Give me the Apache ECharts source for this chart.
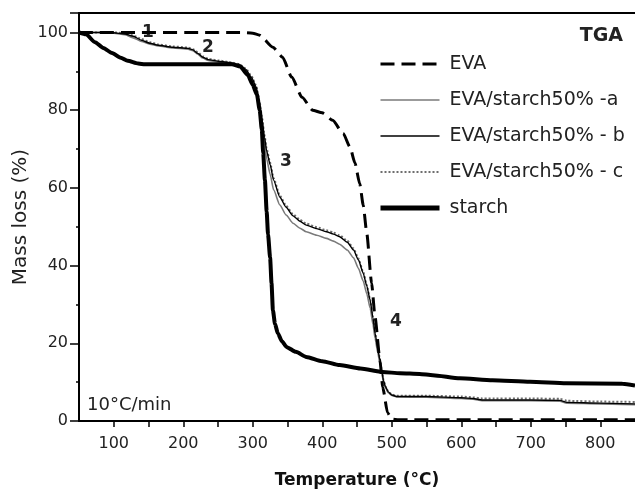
<!DOCTYPE html>
<html>
<head>
<meta charset="utf-8">
<script src="https://cdn.jsdelivr.net/npm/echarts@6.0.0/dist/echarts.min.js"></script>
<style>
  html, body { margin: 0; padding: 0; background: #fff; }
  #echart { width: 635px; height: 489px; }
</style>
</head>
<body>
<div id="echart"></div>
<script>
// TGA curves, [temperature °C, mass %]
var evaData = [
  [50, 100], [282, 100], [300, 99.8], [310, 99.3], [329, 96.2], [343, 93.6], [356, 88.5],
  [371, 83.3], [386, 80], [400, 79.3], [415, 77.4], [430, 74], [440, 70.5], [447, 66.4],
  [454, 61], [459, 55.5], [464, 48.4], [471, 35.5], [476, 26.7], [483, 15.7], [487, 8.7],
  [494, 2.1], [500, 0.5], [510, 0.3], [850, 0.3]
];
var blendA = [
  [50, 100], [80, 100], [100, 99.8], [116, 99.4], [128, 98.6], [140, 97.7], [152, 97],
  [164, 96.5], [185, 96], [207, 95.7], [214, 95.3], [221, 94.4], [228, 93.4], [236, 92.8],
  [250, 92.4], [265, 92.1], [280, 91.6], [290, 90.2], [298, 88], [305, 85.3], [310, 80.5],
  [313, 76.5], [317, 71.5], [320, 67.5], [325, 63.5], [330, 59.5], [339, 55.6], [348, 53],
  [358, 50.9], [368, 49.6], [377, 48.7], [392, 47.8], [406, 47], [416, 46.3], [425, 45.5],
  [436, 44], [445, 42], [452, 39.3], [459, 36], [464, 32.8], [469, 29], [473, 24.8],
  [476, 21.3], [480, 17.5], [483, 14.8], [486, 12], [488, 10.1], [491, 8.5], [495, 7.3],
  [500, 6.6], [507, 6.2], [550, 6.1], [600, 5.8], [617, 5.6], [630, 5.2], [700, 5.2],
  [742, 5.1], [752, 4.6], [800, 4.4], [850, 4.2]
];
var blendB = [
  [50, 100], [80, 100], [100, 99.9], [116, 99.6], [128, 99], [140, 98], [152, 97.2],
  [164, 96.7], [185, 96.2], [207, 95.9], [214, 95.5], [221, 94.6], [228, 93.6], [236, 93],
  [250, 92.6], [265, 92.3], [280, 91.8], [290, 90.5], [298, 88.5], [305, 86], [310, 81.5],
  [313, 78], [317, 73], [320, 69.5], [325, 66], [330, 62], [339, 57.6], [348, 55],
  [358, 52.8], [368, 51.4], [377, 50.4], [392, 49.5], [406, 48.7], [416, 48.1], [425, 47.4],
  [436, 46], [445, 44], [452, 41.5], [459, 38], [464, 34.8], [469, 31], [473, 26.5],
  [476, 22.6], [480, 18.5], [483, 15.7], [486, 12.6], [488, 10.5], [491, 8.8], [495, 7.5],
  [500, 6.7], [507, 6.3], [550, 6.3], [600, 6], [617, 5.8], [630, 5.4], [700, 5.4],
  [742, 5.3], [752, 4.8], [800, 4.6], [850, 4.4]
];
var blendC = [
  [50, 100], [80, 100], [100, 100], [116, 99.8], [128, 99.2], [140, 98.3], [152, 97.5],
  [164, 96.9], [185, 96.4], [207, 96.1], [214, 95.7], [221, 94.9], [228, 93.9], [236, 93.2],
  [250, 92.8], [265, 92.4], [280, 91.9], [290, 90.7], [298, 88.8], [305, 86.3], [310, 82],
  [313, 78.5], [317, 73.5], [320, 70], [325, 66.5], [330, 62.5], [339, 58], [348, 55.4],
  [358, 53.2], [368, 51.8], [377, 50.8], [392, 49.9], [406, 49.1], [416, 48.5], [425, 47.8],
  [436, 46.4], [445, 44.4], [452, 41.8], [459, 38.3], [464, 35], [469, 31.2], [473, 26.7],
  [476, 22.8], [480, 18.7], [483, 15.9], [486, 12.7], [488, 10.6], [491, 8.9], [495, 7.6],
  [500, 6.8], [507, 6.5], [550, 6.5], [600, 6.3], [617, 6.1], [630, 5.8], [700, 5.8],
  [742, 5.7], [752, 5.2], [800, 5], [850, 4.9]
];
var starchData = [
  [50, 100], [60, 99.5], [73, 97.5], [85, 96], [97.5, 94.7], [110, 93.5], [120, 92.7],
  [135, 92], [145, 91.8], [270, 91.8], [282, 91.2], [293, 89], [300, 86.5], [306, 84],
  [310, 80], [313, 75], [315, 69], [317.5, 62], [320, 54], [322, 48], [325, 42], [327, 35.5],
  [329, 28.5], [332, 25], [336, 22.6], [342, 20.5], [349, 19], [362, 17.8], [377, 16.5],
  [400, 15.4], [425, 14.4], [455, 13.5], [487, 12.6], [512, 12.3], [540, 12.1], [559, 11.8],
  [598, 11], [645, 10.5], [699, 10.1], [751, 9.7], [832, 9.6], [850, 9.1]
];
var seriesNames = ["EVA", "EVA/starch50% -a", "EVA/starch50% - b", "EVA/starch50% - c", "starch"];
var xTickLabels = [100, 200, 300, 400, 500, 600, 700, 800];
var yTickLabels = [0, 20, 40, 60, 80, 100];

var FONT = "DejaVu Sans";
var myChart = echarts.init(document.getElementById("echart"));

var option = {
  animation: false,
  backgroundColor: "#fff",
  grid: { left: 79, right: 0, top: 13, bottom: 68, outerBoundsMode: "none" },
  legend: {
    orient: "vertical",
    left: 373,
    top: 49,
    itemWidth: 59,
    itemHeight: 12,
    itemGap: 16,
    data: [
      { name: seriesNames[0], lineStyle: { width: 3 } },
      { name: seriesNames[1], lineStyle: { width: 1.6 } },
      { name: seriesNames[2], lineStyle: { width: 1.6 } },
      { name: seriesNames[3], lineStyle: { width: 2 } },
      { name: seriesNames[4], lineStyle: { width: 5 } }
    ],
    itemStyle: { opacity: 0 },
    textStyle: { fontFamily: FONT, fontSize: 19, color: "#222", lineHeight: 20, padding: [0, 0, 0, 5] }
  },
  xAxis: [
    {
      type: "value",
      min: 50,
      max: 850,
      interval: 50,
      name: "Temperature (°C)",
      nameLocation: "middle",
      nameGap: 51,
      nameTextStyle: { fontFamily: FONT, fontSize: 17, fontWeight: "bold", color: "#111" },
      axisLine: { onZero: false, lineStyle: { color: "#000", width: 2 } },
      axisTick: { length: 6, lineStyle: { color: "#000", width: 1.5 } },
      axisLabel: {
        margin: 15,
        fontFamily: FONT,
        fontSize: 16,
        color: "#222",
        showMinLabel: false,
        showMaxLabel: false,
        formatter: function (v) { return xTickLabels.indexOf(v) >= 0 ? String(v) : ""; }
      },
      splitLine: { show: false }
    },
    {
      // top frame line
      type: "value",
      position: "top",
      min: 50,
      max: 850,
      axisLine: { show: true, onZero: false, lineStyle: { color: "#000", width: 2 } },
      axisTick: { show: false },
      axisLabel: { show: false },
      splitLine: { show: false }
    }
  ],
  yAxis: {
    type: "value",
    min: 0,
    max: 105,
    interval: 20,
    name: "Mass loss (%)",
    nameLocation: "middle",
    nameGap: 48,
    nameMoveOverlap: false,
    nameTextStyle: { fontFamily: FONT, fontSize: 20, color: "#222" },
    axisLine: { show: true, onZero: false, lineStyle: { color: "#000", width: 2 } },
    axisTick: { length: 9, lineStyle: { color: "#000", width: 1.5 } },
    minorTick: { show: true, splitNumber: 2, length: 3, lineStyle: { color: "#000", width: 1.5 } },
    axisLabel: {
      margin: 11,
      fontFamily: FONT,
      fontSize: 16,
      color: "#222",
      showMaxLabel: false,
      formatter: function (v) { return yTickLabels.indexOf(v) >= 0 ? String(v) : ""; }
    },
    splitLine: { show: false }
  },
  graphic: [
    { type: "text", x: 623, y: 36, style: { text: "TGA", fontFamily: FONT, fontSize: 19, fontWeight: "bold", fill: "#222", align: "right", verticalAlign: "middle" } },
    { type: "text", x: 148, y: 33, z: 1, style: { text: "1", fontFamily: FONT, fontSize: 17, fontWeight: "bold", fill: "#222", align: "center", verticalAlign: "middle" } },
    { type: "text", x: 208, y: 48, style: { text: "2", fontFamily: FONT, fontSize: 17, fontWeight: "bold", fill: "#222", align: "center", verticalAlign: "middle" } },
    { type: "text", x: 286, y: 162, style: { text: "3", fontFamily: FONT, fontSize: 17, fontWeight: "bold", fill: "#222", align: "center", verticalAlign: "middle" } },
    { type: "text", x: 396, y: 322, style: { text: "4", fontFamily: FONT, fontSize: 17, fontWeight: "bold", fill: "#222", align: "center", verticalAlign: "middle" } },
    { type: "text", x: 87, y: 405, style: { text: "10°C/min", fontFamily: FONT, fontSize: 18, fill: "#222", align: "left", verticalAlign: "middle" } }
  ],
  series: [
    {
      name: seriesNames[1],
      type: "line",
      data: blendA,
      symbol: "none",
      smooth: 0.2,
      smoothMonotone: "x",
      color: "#7a7a7a",
      lineStyle: { color: "#7a7a7a", width: 1.6 }
    },
    {
      name: seriesNames[3],
      type: "line",
      data: blendC,
      symbol: "none",
      smooth: 0.2,
      smoothMonotone: "x",
      color: "#6e6e6e",
      lineStyle: { color: "#6e6e6e", width: 2, type: [2, 2] }
    },
    {
      name: seriesNames[2],
      type: "line",
      data: blendB,
      symbol: "none",
      smooth: 0.2,
      smoothMonotone: "x",
      color: "#000",
      lineStyle: { color: "#000", width: 1.4 }
    },
    {
      name: seriesNames[4],
      type: "line",
      data: starchData,
      symbol: "none",
      smooth: 0.2,
      smoothMonotone: "x",
      color: "#000",
      lineStyle: { color: "#000", width: 4 }
    },
    {
      name: seriesNames[0],
      type: "line",
      data: evaData,
      symbol: "none",
      smooth: 0.2,
      smoothMonotone: "x",
      color: "#000",
      lineStyle: { color: "#000", width: 3, type: [14, 7] }
    }
  ]
};
myChart.setOption(option);
</script>
</body>
</html>
